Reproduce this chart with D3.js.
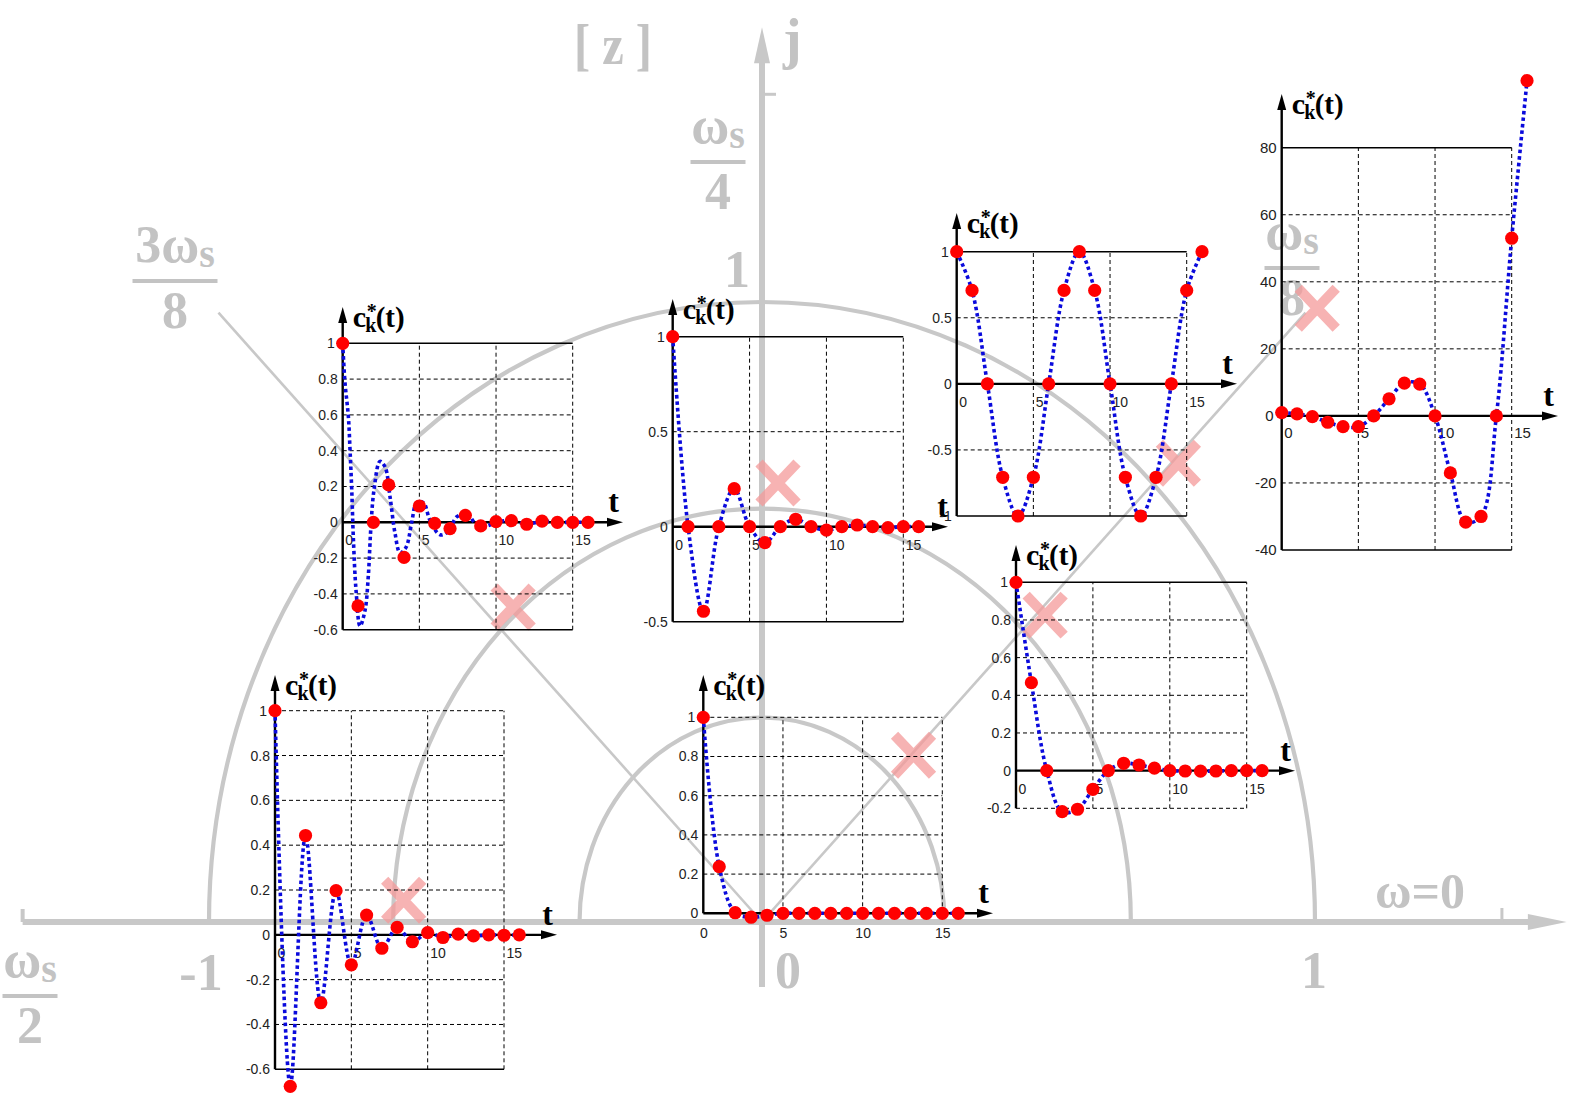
<!DOCTYPE html>
<html><head><meta charset="utf-8">
<script src="https://cdn.jsdelivr.net/npm/d3@7"></script>
<style>html,body{margin:0;padding:0;background:#fff;}svg{display:block}</style>
</head><body>
<svg id="c" width="1571" height="1094"></svg>
<script>
// ================= DATA =================
const tSamples = [0,1,2,3,4,5,6,7,8,9,10,11,12,13,14,15,16];
const xTickValues = [0,5,10,15];

const ckTopLeft   = [1,-0.467,0,0.209,-0.196,0.091,-0.006,-0.035,0.039,-0.02,0.004,0.009,-0.011,0.007,0,0,0];
const ckTopMid    = [1,0,-0.445,0,0.2,0,-0.084,0,0.039,0,-0.018,0,0.009,0,-0.005,0,0];
const ckTopRight1 = [1,0.707,0,-0.707,-1,-0.707,0,0.707,1,0.707,0,-0.707,-1,-0.707,0,0.707,1];
const ckTopRight2 = [1,0.6,-0.2,-1.9,-3.2,-3.2,0,5.1,9.8,9.5,0,-17,-31.7,-30,0,53,100];
const ckMidRight  = [1,0.467,0,-0.218,-0.205,-0.099,0,0.039,0.03,0.013,0,-0.002,-0.003,-0.002,0,0,0];
const ckBotMid    = [1,0.238,0.003,-0.02,-0.01,0,0,0,0,0,0,0,0,0,0,0,0];
const ckBotLeft   = [1,-0.676,0.443,-0.303,0.197,-0.134,0.088,-0.06,0.033,-0.031,0.01,-0.012,0.003,-0.005,0,-0.002,0];

// continuous envelope of the top-left response
const curveTopLeftT = [0,0.15,0.37,0.48,0.59,0.7,0.87,1.13,1.46,1.67,1.83,2.04,2.43,2.76,3.09,3.41,3.74,4.13,4.5,4.83,5.26,5.7,6.35,6.89,7.43,8.09,8.7,9.39,10,11,12,13,14,15,16];
const curveTopLeftV = [1,0.78,0.59,0.4,0.18,-0.1,-0.38,-0.58,-0.49,-0.3,-0.04,0.18,0.34,0.31,0.14,-0.06,-0.17,-0.14,0,0.11,0.11,0.01,-0.07,-0.05,0.03,0.05,-0.01,-0.02,0,0.01,-0.01,0.005,0,0,0];

// y tick labels of each inset
const ticksTopLeft   = [1,0.8,0.6,0.4,0.2,0,-0.2,-0.4,-0.6];
const ticksTopMid    = [1,0.5,0,-0.5];
const ticksTopRight1 = [1,0.5,0,-0.5,-1];
const ticksTopRight2 = [80,60,40,20,0,-20,-40];
const ticksMidRight  = [1,0.8,0.6,0.4,0.2,0,-0.2];
const ticksBotMid    = [1,0.8,0.6,0.4,0.2,0];
const ticksBotLeft   = [1,0.8,0.6,0.4,0.2,0,-0.2,-0.4,-0.6];

// z-plane
const circleRadii = [1, 0.667, 0.33];
const rayAnglesDeg = [45, 135];
const rayLength = 1.39;
const poleRe = [-0.45, 0.029, 0.753, 1.004, 0.512, 0.274, -0.648];
const poleIm = [0.508, 0.708, 0.74, 0.99, 0.495, 0.269, 0.035];

// ================= DRAW =================
const svg = d3.select('#c');
svg.append('rect').attr('width',1571).attr('height',1094).attr('fill','#fff');

const zx = d3.scaleLinear().domain([-1,1]).range([209,1315]);
const zy = d3.scaleLinear().domain([0,1]).range([922,302]);
const GL = '#c8c8c8', GT = '#c3c3c3';
const bg = svg.append('g');

// circles
circleRadii.forEach(r => {
  bg.append('path')
    .attr('d', `M${zx(-r)},${zy(0)} A${zx(r)-zx(0)},${zy(0)-zy(r)} 0 0 1 ${zx(r)},${zy(0)}`)
    .attr('fill','none').attr('stroke',GL).attr('stroke-width',4.2);
});
// rays
rayAnglesDeg.forEach(a => {
  const rad = a*Math.PI/180;
  bg.append('line').attr('x1',zx(0)).attr('y1',zy(0))
    .attr('x2',zx(rayLength*Math.cos(rad))).attr('y2',zy(rayLength*Math.sin(rad)))
    .attr('stroke',GL).attr('stroke-width',2.6);
});
// real axis
bg.append('line').attr('x1',zx(-1.337)).attr('x2',zx(1.39)).attr('y1',zy(0)).attr('y2',zy(0))
  .attr('stroke',GL).attr('stroke-width',6);
bg.append('path').attr('d',`M${zx(1.455)},${zy(0)} L${zx(1.385)},${zy(0)-8} L${zx(1.385)},${zy(0)+8} Z`).attr('fill',GL);
bg.append('line').attr('x1',zx(-1.337)).attr('x2',zx(-1.337)).attr('y1',zy(0)).attr('y2',zy(0)-13).attr('stroke',GL).attr('stroke-width',4);
bg.append('line').attr('x1',zx(1.338)).attr('x2',zx(1.338)).attr('y1',zy(0)).attr('y2',zy(0)-14).attr('stroke',GL).attr('stroke-width',3);
// imaginary axis
bg.append('line').attr('x1',zx(0)).attr('x2',zx(0)).attr('y1',zy(-0.105)).attr('y2',zy(1.39))
  .attr('stroke',GL).attr('stroke-width',6);
bg.append('path').attr('d',`M${zx(0)},${zy(1.443)} L${zx(0)-8},${zy(1.385)} L${zx(0)+8},${zy(1.385)} Z`).attr('fill',GL);
bg.append('line').attr('x1',zx(0)).attr('x2',zx(0)+14).attr('y1',zy(1.335)).attr('y2',zy(1.335)).attr('stroke',GL).attr('stroke-width',3);

// plane labels
const serif = '"Liberation Serif","Times New Roman",serif';
function ptext(txt, x, y, size, anchor) {
  return bg.append('text').attr('x',x).attr('y',y).attr('text-anchor',anchor||'middle')
    .attr('fill',GT).style('font-family',serif).style('font-weight','bold').style('font-size',size+'px').text(txt);
}
function frac(cx, barY, num, den, barW) {
  const tx = bg.append('text').attr('x',cx).attr('y',barY-19).attr('text-anchor','middle')
    .attr('fill',GT).style('font-family',serif).style('font-weight','bold').style('font-size','52px');
  tx.append('tspan').text(num);
  tx.append('tspan').attr('dy',5).style('font-size','40px').text('s');
  bg.append('rect').attr('x',cx-barW/2).attr('y',barY-2).attr('width',barW).attr('height',4).attr('fill',GT);
  ptext(den, cx, barY+47, 52);
}
ptext('[ z ]', 574, 64, 58, 'start').attr('textLength',78).attr('lengthAdjust','spacingAndGlyphs');
ptext('j', 783, 58, 56, 'start');
frac(718, 162, 'ω', '4', 55);
frac(175, 281, '3ω', '8', 85);
frac(1292, 268, 'ω', '8', 55);
frac(30, 996, 'ω', '2', 55);
ptext('1', 737, 287, 52);
ptext('-1', 201, 990, 52);
ptext('0', 788, 988, 52);
ptext('1', 1314, 988, 52);
ptext('ω=0', 1420, 908, 50);

// poles (pink crosses)
const poleG = svg.append('g').attr('opacity',0.75);
poleRe.forEach((re,i) => {
  const cx = zx(re), cy = zy(poleIm[i]);
  poleG.append('path').attr('d',`M${cx-19},${cy-20} L${cx+19},${cy+20} M${cx+19},${cy-20} L${cx-19},${cy+20}`)
    .attr('stroke','#f49a9a').attr('stroke-width',10).attr('fill','none');
});

// ================= INSETS =================
const insets = [
  {vals:ckTopLeft, curveT:curveTopLeftT, curveV:curveTopLeftV, ticks:ticksTopLeft,
   x0:342.7, x15:572.7, yTop:343.3, yBot:629.7, arrowTop:307, arrowEnd:623, topSolid:true, botSolid:true},
  {vals:ckTopMid, ticks:ticksTopMid,
   x0:672.7, x15:903.3, yTop:336.7, yBot:621.7, arrowTop:299, arrowEnd:948, topSolid:true, botSolid:true, tShift:4},
  {vals:ckTopRight1, ticks:ticksTopRight1,
   x0:956.7, x15:1186.7, yTop:251.7, yBot:516, arrowTop:213, arrowEnd:1237, topSolid:true, botSolid:true},
  {vals:ckTopRight2, ticks:ticksTopRight2,
   x0:1281.7, x15:1511.7, yTop:147.7, yBot:550, arrowTop:94, arrowEnd:1558, topSolid:true, botSolid:true, fs:15, xPad:11},
  {vals:ckMidRight, ticks:ticksMidRight,
   x0:1016, x15:1246.7, yTop:582.3, yBot:808.3, arrowTop:545, arrowEnd:1295, topSolid:true, botSolid:false},
  {vals:ckBotMid, ticks:ticksBotMid,
   x0:703.3, x15:942.3, yTop:717.3, yBot:913.3, arrowTop:675, arrowEnd:993, topSolid:false, botSolid:false, centered:true, xPad:15},
  {vals:ckBotLeft, ticks:ticksBotLeft,
   x0:275, x15:504, yTop:710.7, yBot:1069.3, arrowTop:675, arrowEnd:557, topSolid:false, botSolid:true}
];

function drawInset(c) {
  const g = svg.append('g');
  const yMax = d3.max(c.ticks), yMin = d3.min(c.ticks);
  const xs = d3.scaleLinear().domain([0,15]).range([c.x0, c.x15]);
  const ys = d3.scaleLinear().domain([yMin,yMax]).range([c.yBot, c.yTop]);
  const y0 = ys(0);
  const isSolid = d => (d===yMax&&c.topSolid)||(d===yMin&&c.botSolid);
  // vertical grid
  g.selectAll('.vg').data(xTickValues.filter(v=>v>0)).join('line')
    .attr('x1',d=>xs(d)).attr('x2',d=>xs(d)).attr('y1',ys(yMin)).attr('y2',ys(yMax))
    .attr('stroke','#000').attr('stroke-width',1).attr('stroke-dasharray','4,3');
  // horizontal grid
  g.selectAll('.hg').data(c.ticks.filter(v=>v!==0)).join('line')
    .attr('x1',xs(0)).attr('x2',xs(15)).attr('y1',d=>ys(d)).attr('y2',d=>ys(d))
    .attr('stroke','#000')
    .attr('stroke-width',d=>isSolid(d)?1.6:1)
    .attr('stroke-dasharray',d=>isSolid(d)?null:'4,3');
  // axes lines + arrows
  g.append('line').attr('x1',xs(0)).attr('x2',c.arrowEnd-12).attr('y1',y0).attr('y2',y0).attr('stroke','#000').attr('stroke-width',2.4);
  g.append('path').attr('d',`M${c.arrowEnd},${y0} L${c.arrowEnd-16},${y0-4.5} L${c.arrowEnd-16},${y0+4.5} Z`).attr('fill','#000');
  g.append('line').attr('x1',xs(0)).attr('x2',xs(0)).attr('y1',ys(yMin)).attr('y2',c.arrowTop+12).attr('stroke','#000').attr('stroke-width',2.4);
  g.append('path').attr('d',`M${xs(0)},${c.arrowTop} L${xs(0)-4.5},${c.arrowTop+16} L${xs(0)+4.5},${c.arrowTop+16} Z`).attr('fill','#000');
  // tick labels through d3 axes
  const fs = (c.fs||14)+'px';
  const ya = g.append('g').attr('transform',`translate(${xs(0)},0)`)
    .call(d3.axisLeft(ys).tickValues(c.ticks).tickSize(0).tickPadding(5).tickFormat(d=>String(d)));
  ya.select('.domain').remove();
  ya.selectAll('text').style('font-family','"Liberation Sans",Arial,sans-serif').style('font-size',fs).attr('fill','#222')
    .attr('dx', d => Math.abs(ys(d)-ys(c.vals[0]))<4 ? -3 : 0);
  const xa = g.append('g').attr('transform',`translate(0,${y0})`)
    .call(d3.axisBottom(xs).tickValues(xTickValues).tickSize(0).tickPadding(c.xPad||13).tickFormat(d=>String(d)));
  xa.select('.domain').remove();
  xa.selectAll('text').style('font-family','"Liberation Sans",Arial,sans-serif').style('font-size',fs).attr('fill','#222');
  if (!c.centered) xa.selectAll('text').attr('text-anchor','start').attr('dx',2);
  // dotted blue curve
  const ct = c.curveT || tSamples, cv = c.curveV || c.vals;
  const line = d3.line().x(d=>xs(ct[d])).y(d=>ys(cv[d])).curve(d3.curveCatmullRom.alpha(0.5));
  g.append('path').attr('d',line(d3.range(ct.length))).attr('fill','none')
    .attr('stroke','#0a0adc').attr('stroke-width',3.6).attr('stroke-dasharray','3.5,3');
  // red samples
  g.selectAll('.pt').data(c.vals).join('circle')
    .attr('cx',(d,i)=>xs(tSamples[i])).attr('cy',d=>ys(d)).attr('r',6.6).attr('fill','#ff0000');
  // labels
  const lx = xs(0)+10, ly = c.arrowTop+20;
  const lab = g.append('g').attr('fill','#000').style('font-family',serif).style('font-weight','bold');
  lab.append('text').attr('x',lx).attr('y',ly).style('font-size','30px').text('c');
  lab.append('text').attr('x',lx+12.5).attr('y',ly+5).style('font-size','20px').text('k');
  lab.append('text').attr('x',lx+14).attr('y',ly-9).style('font-size','20px').text('*');
  lab.append('text').attr('x',lx+23).attr('y',ly).style('font-size','29px').text('(t)');
  lab.append('text').attr('x',c.arrowEnd-4+(c.tShift||0)).attr('y',y0-10).attr('text-anchor','end').style('font-size','32px').text('t');
}
insets.forEach(drawInset);
</script>
</body></html>
